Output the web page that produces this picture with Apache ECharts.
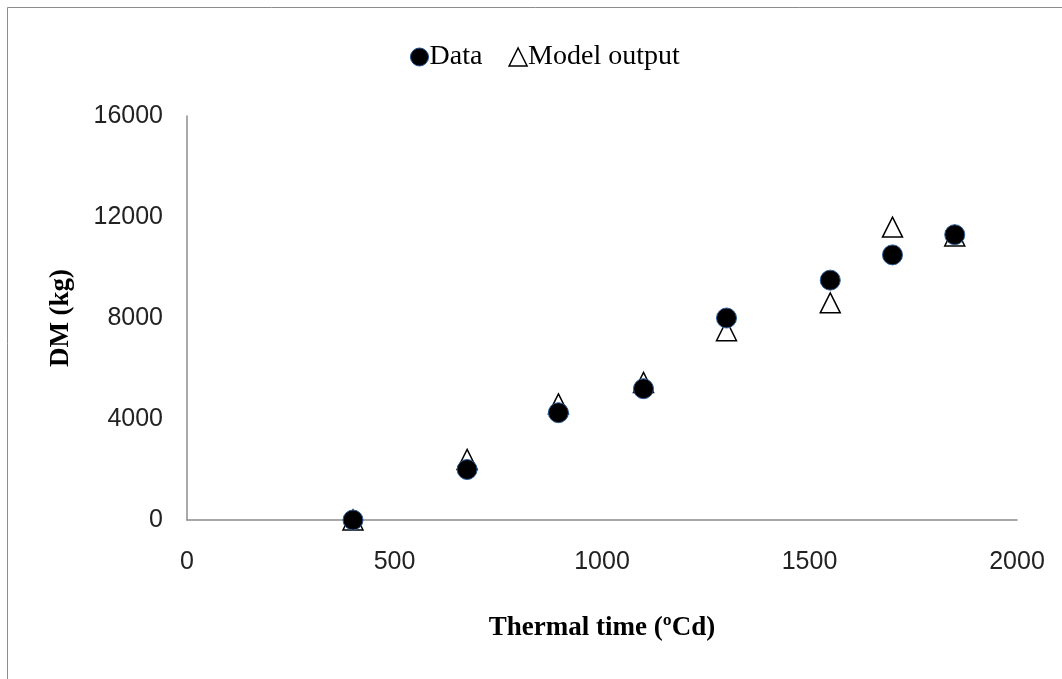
<!DOCTYPE html>
<html>
<head>
<meta charset="utf-8">
<script src="https://cdn.jsdelivr.net/npm/echarts@6/dist/echarts.min.js"></script>
<style>html,body{margin:0;padding:0;background:#fff}#c{width:1062px;height:679px}</style>
</head>
<body>
<div id="c"></div>
<script>
const dataX = [400, 675, 895, 1100, 1300, 1550, 1700, 1850];
const dataY = [0, 2000, 4250, 5200, 8000, 9500, 10500, 11300];
const modelX = [400, 675, 895, 1100, 1300, 1550, 1700, 1850];
const modelY = [0, 2400, 4600, 5450, 7500, 8600, 11600, 11250];
const xTicks = [0, 500, 1000, 1500, 2000];
const yTicks = [0, 4000, 8000, 12000, 16000];

const chart = echarts.init(document.getElementById('c'), null, {renderer: 'canvas'});
const serif = '"Liberation Serif", "DejaVu Serif", serif';
const sans = '"Liberation Sans", Arial, sans-serif';

chart.setOption({
  animation: false,
  backgroundColor: '#fff',
  graphic: [{
    type: 'rect', silent: true, z: -1,
    shape: {x: 7.5, y: 7.5, width: 1200, height: 800},
    style: {fill: 'none', stroke: '#8c8c8c', lineWidth: 1}
  }],
  legend: {
    top: 38, left: 405,
    data: [
      {name: 'Data', icon: 'circle', itemStyle: {color: '#000', borderColor: '#1f4e8c', borderWidth: 1}},
      {name: 'Model output', icon: 'triangle', itemStyle: {color: '#fff', borderColor: '#000', borderWidth: 1.5}}
    ],
    itemWidth: 18, itemHeight: 18, itemGap: 26,
    textStyle: {fontFamily: serif, fontSize: 28, color: '#000', padding: [0, 0, 0, -4]}
  },
  grid: {left: 187, right: 45, top: 116, bottom: 159},
  xAxis: {
    type: 'value', min: xTicks[0], max: xTicks[xTicks.length - 1], interval: 500,
    name: 'Thermal time (ºCd)', nameLocation: 'middle', nameGap: 95,
    nameTextStyle: {fontFamily: serif, fontWeight: 'bold', fontSize: 27, color: '#000'},
    axisLine: {show: true, lineStyle: {color: '#8c8c8c', width: 1.5}},
    axisTick: {show: false},
    splitLine: {show: false},
    axisLabel: {margin: 30, fontFamily: sans, fontSize: 25, color: '#222', formatter: v => String(v)}
  },
  yAxis: {
    type: 'value', min: yTicks[0], max: yTicks[yTicks.length - 1], interval: 4000,
    name: 'DM (kg)', nameLocation: 'middle', nameGap: 112,
    nameTextStyle: {fontFamily: serif, fontWeight: 'bold', fontSize: 27, color: '#000'},
    axisLine: {show: true, lineStyle: {color: '#8c8c8c', width: 1.5}},
    axisTick: {show: false},
    splitLine: {show: false},
    axisLabel: {margin: 24, fontFamily: sans, fontSize: 25, color: '#222', formatter: v => String(v)}
  },
  series: [
    {
      name: 'Model output', type: 'scatter', symbol: 'triangle', symbolSize: [20, 20],
      itemStyle: {color: '#fff', borderColor: '#000', borderWidth: 1.5, opacity: 1},
      data: modelX.map((x, i) => [x, modelY[i]])
    },
    {
      name: 'Data', type: 'scatter', symbol: 'circle', symbolSize: 20,
      itemStyle: {color: '#000', borderColor: '#2d5f9a', borderWidth: 1, opacity: 1},
      data: dataX.map((x, i) => [x, dataY[i]])
    }
  ]
});
</script>
</body>
</html>
